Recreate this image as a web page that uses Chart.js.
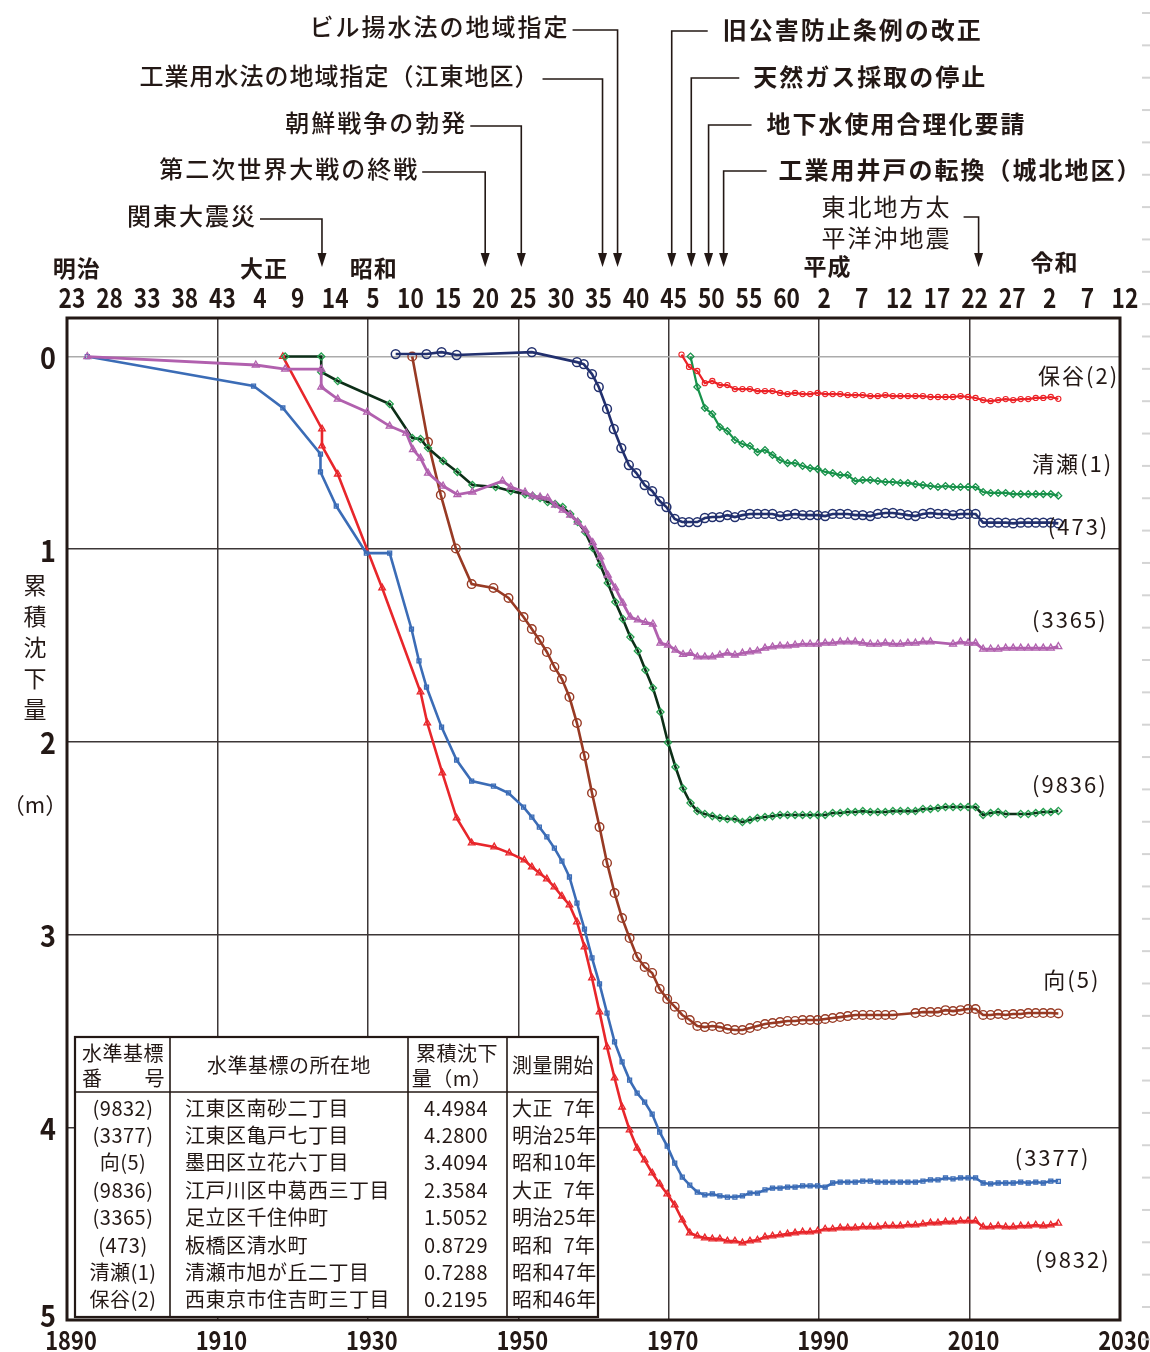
<!DOCTYPE html>
<html lang="ja">
<head>
<meta charset="utf-8">
<title>累積沈下量の推移</title>
<script src="https://cdn.jsdelivr.net/npm/chart.js@4.4.1/dist/chart.umd.min.js"></script>
<style>
  html, body { margin: 0; padding: 0; background: #fff; }
  canvas { display: block; }
</style>
</head>
<body>
<canvas id="subsidenceChart" width="1150" height="1352"></canvas>
<script>
/* =========================================================
   DATA
   x = year as plotted, y = cumulative subsidence (m)
========================================================= */
const xTicks = [1890, 1910, 1930, 1950, 1970, 1990, 2010, 2030];
const yTicks = [0, 1, 2, 3, 4, 5];

// wareki year row on the top axis
const eraTickYears = [1890, 1895, 1900, 1905, 1910, 1915, 1920, 1925, 1930, 1935, 1940, 1945, 1950, 1955, 1960,
                      1965, 1970, 1975, 1980, 1985, 1990, 1995, 2000, 2005, 2010, 2015, 2020, 2025, 2030];
const eraTickLabels = ['23', '28', '33', '38', '43', '4', '9', '14', '5', '10', '15', '20', '25', '30', '35',
                       '40', '45', '50', '55', '60', '2', '7', '12', '17', '22', '27', '2', '7', '12'];
const eraNames = ['明治', '大正', '昭和', '平成', '令和'];
const eraNameYears = [1891.3, 1916.2, 1930.8, 1991.1, 2021.3];

// yearly survey points shared by all benchmarks after 1973
const annualYears = [1973.8, 1974.8, 1975.8, 1976.8, 1977.8, 1978.8, 1979.8, 1980.8, 1981.8, 1982.8,
                     1983.8, 1984.8, 1985.8, 1986.8, 1987.8, 1988.8, 1989.8, 1990.8, 1991.8, 1992.8,
                     1993.8, 1994.8, 1995.8, 1996.8, 1997.8, 1998.8, 1999.8, 2000.8, 2001.8, 2002.8,
                     2003.8, 2004.8, 2005.8, 2006.8, 2007.8, 2008.8, 2009.8, 2010.8, 2011.8, 2012.8,
                     2013.8, 2014.8, 2015.8, 2016.8, 2017.8, 2018.8, 2019.8, 2020.8, 2021.8];

// (9832) 江東区南砂二丁目
const early9832Years = [1918.7, 1923.9, 1923.9, 1926.0, 1931.9, 1937.0, 1937.9, 1939.9, 1941.8, 1943.8, 1946.8, 1948.8, 1950.8,
                        1951.8, 1952.8, 1953.8, 1954.8, 1955.8, 1956.8, 1957.8, 1958.8, 1959.8, 1960.8,
                        1961.8, 1962.8, 1963.8, 1964.8, 1965.8, 1966.8, 1967.8, 1968.8, 1969.8, 1970.8, 1971.8, 1972.8];
const early9832 = [0.00, 0.376, 0.464, 0.61, 1.201, 1.741, 1.902, 2.161, 2.395, 2.524, 2.545, 2.576, 2.613,
                   2.649, 2.680, 2.711, 2.753, 2.800, 2.846, 2.934, 3.064, 3.225, 3.401,
                   3.583, 3.744, 3.895, 4.014, 4.108, 4.170, 4.237, 4.294, 4.346, 4.403, 4.481, 4.548];
const late9832 = [4.564, 4.574, 4.579, 4.579, 4.590, 4.590, 4.600, 4.590, 4.585, 4.569,
                  4.564, 4.559, 4.553, 4.548, 4.543, 4.543, 4.538, 4.528, 4.528, 4.522,
                  4.522, 4.522, 4.517, 4.517, 4.517, 4.512, 4.512, 4.512, 4.507, 4.507,
                  4.502, 4.496, 4.496, 4.491, 4.491, 4.486, 4.486, 4.486, 4.517, 4.517,
                  4.512, 4.517, 4.517, 4.512, 4.512, 4.507, 4.512, 4.507, 4.498];

// (3377) 江東区亀戸七丁目
const early3377Years = [1892.7, 1914.8, 1918.7, 1923.7, 1923.7, 1925.8, 1929.8, 1932.9, 1935.8, 1936.8, 1937.8, 1939.8,
                        1941.8, 1943.8, 1946.7, 1948.7, 1950.7,
                        1951.8, 1952.8, 1953.8, 1954.8, 1955.8, 1956.8, 1957.8, 1958.8, 1959.8, 1960.8,
                        1961.8, 1962.8, 1963.8, 1964.8, 1965.8, 1966.8, 1967.8, 1968.8, 1969.8, 1970.8, 1971.8, 1972.8];
const early3377 = [0.0, 0.153, 0.267, 0.506, 0.599, 0.776, 1.020, 1.020, 1.414, 1.580, 1.715, 1.923,
                   2.094, 2.203, 2.229, 2.265, 2.338,
                   2.390, 2.442, 2.493, 2.551, 2.618, 2.701, 2.836, 2.971, 3.121, 3.256,
                   3.407, 3.557, 3.661, 3.755, 3.822, 3.869, 3.931, 4.025, 4.098, 4.186, 4.258, 4.300];
const late3377 = [4.336, 4.351, 4.346, 4.356, 4.362, 4.362, 4.356, 4.341, 4.341, 4.325,
                  4.315, 4.315, 4.310, 4.310, 4.304, 4.304, 4.304, 4.310, 4.289, 4.284,
                  4.284, 4.284, 4.279, 4.279, 4.284, 4.284, 4.284, 4.284, 4.284, 4.284,
                  4.279, 4.273, 4.273, 4.263, 4.268, 4.263, 4.263, 4.263, 4.289, 4.294,
                  4.289, 4.289, 4.289, 4.284, 4.289, 4.284, 4.289, 4.279, 4.280];

// 向(5) 墨田区立花六丁目
const early5Years = [1935.9, 1938.0, 1939.7, 1941.7, 1943.8, 1946.7, 1948.7, 1950.7,
                     1951.8, 1952.8, 1953.8, 1954.8, 1955.8, 1956.8, 1957.8, 1958.8, 1959.8, 1960.8,
                     1961.8, 1962.8, 1963.8, 1964.8, 1965.8, 1966.8, 1967.8, 1968.8, 1969.8, 1970.8, 1971.8, 1972.8];
const early5 = [0.0, 0.444, 0.719, 0.996, 1.181, 1.201, 1.253, 1.352,
                1.414, 1.471, 1.533, 1.611, 1.674, 1.767, 1.902, 2.073, 2.265, 2.442,
                2.628, 2.784, 2.914, 3.018, 3.116, 3.168, 3.199, 3.282, 3.334, 3.374, 3.417, 3.443];
const late5 = [3.474, 3.480, 3.474, 3.480, 3.490, 3.495, 3.495, 3.485, 3.474, 3.464,
               3.459, 3.454, 3.448, 3.448, 3.443, 3.443, 3.443, 3.438, 3.433, 3.428,
               3.423, 3.417, 3.417, 3.417, 3.417, 3.417, 3.417, null, null, 3.407,
               3.402, 3.402, 3.402, 3.392, 3.397, 3.392, 3.386, 3.386, 3.417, 3.417,
               3.412, 3.417, 3.412, 3.412, 3.407, 3.407, 3.407, 3.407, 3.409];

// (9836) 江戸川区中葛西三丁目
const early9836Years = [1919.0, 1923.8, 1923.8, 1926.0, 1932.9, 1935.9, 1937.0, 1938.0, 1940.0, 1941.9, 1943.9, 1947.0, 1949.0, 1950.9,
                        1951.9, 1952.9, 1953.9, 1954.9, 1955.9, 1956.9, 1957.9, 1958.9, 1959.9, 1960.9,
                        1961.9, 1962.9, 1963.9, 1964.9, 1965.9, 1966.9, 1967.9, 1968.9, 1969.9, 1970.9, 1971.9, 1972.9];
const early9836 = [0.0, 0.0, 0.08, 0.127, 0.246, 0.423, 0.428, 0.475, 0.542, 0.599, 0.667, 0.677, 0.698, 0.714,
                   0.724, 0.734, 0.755, 0.765, 0.781, 0.817, 0.859, 0.911, 0.994, 1.082,
                   1.175, 1.274, 1.362, 1.456, 1.528, 1.627, 1.720, 1.845, 2.003, 2.130, 2.242, 2.317];
const late9836 = [2.359, 2.374, 2.385, 2.395, 2.400, 2.400, 2.416, 2.405, 2.395, 2.390,
                  2.385, 2.379, 2.379, 2.379, 2.379, 2.379, 2.379, 2.379, 2.369, 2.369,
                  2.364, 2.364, 2.359, 2.364, 2.364, 2.364, 2.359, 2.359, 2.359, 2.359,
                  2.348, 2.348, 2.343, 2.338, 2.338, 2.338, 2.338, 2.338, 2.379, 2.369,
                  2.364, 2.374, null, 2.374, 2.374, 2.369, 2.364, 2.364, 2.358];

// (3365) 足立区千住仲町
const early3365Years = [1892.7, 1915.1, 1919.0, 1923.8, 1923.8, 1926.0, 1929.9, 1932.9, 1935.1, 1936.0, 1937.0, 1938.0,
                        1940.0, 1941.9, 1943.9, 1947.9, 1949.0, 1950.9,
                        1951.9, 1952.9, 1953.9, 1954.9, 1955.9, 1956.9, 1957.9, 1958.9, 1959.9, 1960.9,
                        1961.9, 1962.9, 1963.9, 1964.9, 1965.9, 1966.9, 1967.9, 1968.9, 1969.9, 1970.9, 1971.9, 1972.9];
const early3365 = [0.0, 0.044, 0.065, 0.065, 0.158, 0.221, 0.288, 0.361, 0.397, 0.483, 0.527, 0.605,
                   0.672, 0.716, 0.703, 0.646, 0.677, 0.703,
                   0.724, 0.729, 0.734, 0.771, 0.797, 0.823, 0.859, 0.900, 0.965, 1.040,
                   1.134, 1.201, 1.279, 1.352, 1.367, 1.380, 1.388, 1.487, 1.497, 1.523, 1.546, 1.540];
const late3365 = [1.559, 1.559, 1.559, 1.549, 1.539, 1.549, 1.539, 1.533, 1.528, 1.513,
                  1.507, 1.502, 1.502, 1.497, 1.492, 1.492, 1.492, 1.487, 1.487, 1.481,
                  1.481, 1.481, 1.487, 1.492, 1.492, 1.487, 1.492, 1.492, 1.487, 1.487,
                  1.481, 1.481, null, null, 1.492, 1.481, 1.487, 1.487, 1.518, 1.518,
                  1.518, 1.513, 1.513, 1.513, 1.513, 1.513, 1.513, 1.513, 1.505];

// (473) 板橋区清水町
const early473Years = [1933.7, 1937.8, 1939.8, 1941.8, 1951.8, 1957.8, 1958.7, 1959.8, 1960.7, 1961.8, 1962.7,
                       1963.7, 1964.7, 1965.7, 1966.8, 1967.8, 1968.8, 1969.7, 1970.8, 1971.8, 1972.7];
const early473 = [-0.013, -0.013, -0.023, -0.008, -0.023, 0.029, 0.039, 0.091, 0.158, 0.272, 0.376,
                  0.475, 0.563, 0.605, 0.667, 0.698, 0.750, 0.781, 0.843, 0.859, 0.859];
const late473 = [0.859, 0.838, 0.833, 0.833, 0.823, 0.833, 0.823, 0.817, 0.817, 0.817,
                 0.817, 0.828, 0.823, 0.817, 0.823, 0.823, 0.823, 0.828, 0.817, 0.817,
                 0.817, 0.823, 0.823, 0.828, 0.817, 0.812, 0.812, 0.817, 0.823, 0.828,
                 0.817, 0.812, 0.817, 0.817, 0.823, 0.817, 0.817, 0.817, 0.862, 0.862,
                 0.862, 0.862, 0.866, 0.862, 0.862, 0.862, 0.862, 0.862, 0.866];

// 清瀬(1) 清瀬市旭が丘二丁目
const early1Years = [1972.9];
const early1 = [0.0];
const late1 = [0.158, 0.267, 0.298, 0.366, 0.387, 0.433, 0.454, 0.464, 0.496, 0.485,
               0.511, 0.537, 0.553, 0.553, 0.568, 0.579, 0.584, 0.599, 0.605, 0.615,
               0.615, 0.646, 0.641, 0.641, 0.646, 0.651, 0.651, 0.656, 0.656, 0.662,
               0.667, 0.672, 0.677, 0.672, 0.677, 0.677, 0.677, 0.677, 0.703, 0.708,
               0.708, 0.708, 0.714, 0.714, 0.714, 0.714, 0.714, 0.714, 0.722];

// 保谷(2) 西東京市住吉町三丁目
const early2Years = [1971.7, 1972.7];
const early2 = [-0.01, 0.054];
const late2 = [0.075, 0.138, 0.127, 0.148, 0.148, 0.169, 0.169, 0.169, 0.179, 0.179,
               0.179, 0.189, 0.195, 0.189, 0.195, 0.195, 0.189, 0.195, 0.195, 0.195,
               0.200, 0.200, 0.200, 0.205, 0.205, 0.200, 0.205, 0.205, 0.205, 0.205,
               0.205, 0.210, 0.210, 0.210, 0.210, 0.205, 0.210, 0.215, 0.226, 0.231,
               0.226, 0.221, 0.226, 0.221, 0.221, 0.215, 0.215, 0.210, 0.2195];

// curve labels at the right end (year, value)
const curveLabels = ['保谷(2)', '清瀬(1)', '(473)', '(3365)', '(9836)', '向(5)', '(3377)', '(9832)'];
const curveLabelYears = [2019.1, 2018.3, 2020.4, 2018.3, 2018.3, 2019.8, 2016.0, 2018.7];
const curveLabelValues = [0.10, 0.558, 0.885, 1.367, 2.224, 3.236, 4.159, 4.689];

// events marked by arrows above the chart
const eventLabels = ['関東大震災', '第二次世界大戦の終戦', '朝鮮戦争の勃発', '工業用水法の地域指定（江東地区）',
                     'ビル揚水法の地域指定', '旧公害防止条例の改正', '天然ガス採取の停止', '地下水使用合理化要請',
                     '工業用井戸の転換（城北地区）', '東北地方太平洋沖地震'];
const eventYears = [1923.9, 1945.6, 1950.4, 1961.2, 1963.2, 1970.4, 1973.0, 1975.3, 1977.3, 2011.2];

// table in the lower left
const tableRows = [
  ['(9832)', '江東区南砂二丁目', '4.4984', '大正\u20027年'],
  ['(3377)', '江東区亀戸七丁目', '4.2800', '明治25年'],
  ['向(5)', '墨田区立花六丁目', '3.4094', '昭和10年'],
  ['(9836)', '江戸川区中葛西三丁目', '2.3584', '大正\u20027年'],
  ['(3365)', '足立区千住仲町', '1.5052', '明治25年'],
  ['(473)', '板橋区清水町', '0.8729', '昭和\u20027年'],
  ['清瀬(1)', '清瀬市旭が丘二丁目', '0.7288', '昭和47年'],
  ['保谷(2)', '西東京市住吉町三丁目', '0.2195', '昭和46年']
];

/* =========================================================
   STYLE
========================================================= */
const INK = '#231815';
const JP_FONT = "'Noto Sans CJK JP', 'Noto Sans CJK SC', sans-serif";

// layout of the event callouts (pixels relative to the arrow / canvas top)
const eventLayout = [
  { side: 'left', y: 216, gap: 65 },
  { side: 'left', y: 169, gap: 66 },
  { side: 'left', y: 123, gap: 54 },
  { side: 'left', y: 76, gap: 63, spacing: 1 },
  { side: 'left', y: 27, gap: 48 },
  { side: 'right', y: 30, gap: 51, line: 36 },
  { side: 'right', y: 77, gap: 62, line: 48 },
  { side: 'right', y: 124, gap: 58, line: 43 },
  { side: 'right', y: 170, gap: 55, line: 43 },
  { side: 'stack', y: 207, gap: -92, line: 15, split: 5 }
];
const eraNameY = [268, 268, 268, 266, 262];

function pts(years, vals) {
  return years.map((x, i) => ({ x, y: vals[i] }));
}

function lineSet(label, early, earlyYears, late, o) {
  return {
    label,
    data: pts(earlyYears, early).concat(pts(annualYears, late)),
    borderColor: o.line,
    borderWidth: o.width || 2.6,
    pointStyle: o.marker,
    pointRadius: o.r,
    pointBorderColor: o.mark || o.line,
    pointBackgroundColor: 'rgba(255,255,255,0)',
    pointBorderWidth: o.mw || 1.3,
    spanGaps: true,
    tension: 0
  };
}

const datasets = [
  lineSet('保谷(2)', early2, early2Years, late2, { line: '#ec2227', marker: 'circle', r: 2.6, width: 2.2, mw: 1.1 }),
  lineSet('清瀬(1)', early1, early1Years, late1, { line: '#17924a', marker: 'rectRot', r: 3.4, width: 2.2 }),
  lineSet('(473)', early473, early473Years, late473, { line: '#22306e', marker: 'circle', r: 4.4, mw: 1.5 }),
  lineSet('(3365)', early3365, early3365Years, late3365, { line: '#b160ae', marker: 'triangle', r: 4, width: 2.8 }),
  lineSet('(9836)', early9836, early9836Years, late9836, { line: '#0d2f18', mark: '#25a04f', marker: 'rectRot', r: 3.6 }),
  lineSet('向(5)', early5, early5Years, late5, { line: '#983a24', marker: 'circle', r: 4.3, mw: 1.4 }),
  lineSet('(3377)', early3377, early3377Years, late3377, { line: '#3b6cb6', marker: 'rect', r: 2.8 }),
  lineSet('(9832)', early9832, early9832Years, late9832, { line: '#e8262b', marker: 'triangle', r: 3.8 })
];

/* =========================================================
   DRAWING HELPERS (plugin)
========================================================= */
// condensed bold digits, like the narrow gothic of the original
function narrowText(ctx, text, px, py, size, sx) {
  ctx.save();
  ctx.translate(px, py);
  ctx.scale(sx, 1);
  ctx.font = `bold ${size}px ${JP_FONT}`;
  ctx.fillText(text, 0, 0);
  ctx.restore();
}

function drawTickLabels(chart) {
  const { ctx, scales: { x, y }, chartArea: a } = chart;
  ctx.save();
  ctx.fillStyle = INK;
  ctx.textAlign = 'center';
  ctx.textBaseline = 'middle';
  xTicks.forEach(v => narrowText(ctx, String(v), x.getPixelForValue(v) + 4, a.bottom + 20, 26, 0.84));
  eraTickYears.forEach((v, i) => narrowText(ctx, eraTickLabels[i], x.getPixelForValue(v) + 5, a.top - 20, 27, 0.84));
  yTicks.forEach(v => narrowText(ctx, String(v), a.left - 19, Math.min(y.getPixelForValue(v) + 1, a.bottom - 4), 30, 0.9));
  ctx.restore();
}

function drawTable(ctx) {
  const cols = [75, 170, 408, 507, 598];
  const top = 1037, head = 1092, bottom = 1317;
  const rowH = 27.4, firstRow = 1108;
  ctx.save();
  ctx.fillStyle = '#fff';
  ctx.fillRect(cols[0], top, cols[4] - cols[0], bottom - top);
  ctx.strokeStyle = INK;
  ctx.lineWidth = 1.6;
  cols.slice(1, 4).forEach(c => {
    ctx.beginPath(); ctx.moveTo(c, top); ctx.lineTo(c, bottom); ctx.stroke();
  });
  ctx.beginPath(); ctx.moveTo(cols[0], head); ctx.lineTo(cols[4], head); ctx.stroke();
  ctx.lineWidth = 2.2;
  ctx.strokeRect(cols[0], top, cols[4] - cols[0], bottom - top);

  ctx.fillStyle = INK;
  ctx.textBaseline = 'middle';
  ctx.font = `20px ${JP_FONT}`;
  ctx.letterSpacing = '0.5px';
  // header
  ctx.textAlign = 'center';
  ctx.fillText('水準基標', 123, 1053);
  ctx.textAlign = 'left';
  ctx.fillText('番', 82, 1078);
  ctx.textAlign = 'right';
  ctx.fillText('号', 165, 1078);
  ctx.textAlign = 'center';
  ctx.fillText('水準基標の所在地', 289, 1065);
  ctx.fillText('累積沈下', 457, 1053);
  ctx.fillText('量（m）', 452, 1078);
  ctx.fillText('測量開始', 553, 1065);
  // rows
  tableRows.forEach((r, i) => {
    const y = firstRow + i * rowH;
    ctx.textAlign = 'center';
    ctx.fillText(r[0], 123, y);
    ctx.fillText(r[2], 456, y);
    ctx.textAlign = 'left';
    ctx.fillText(r[1], 185, y);
    ctx.fillText(r[3], 512, y);
  });
  ctx.restore();
}

function drawEvents(chart) {
  const { ctx, scales: { x }, chartArea } = chart;
  const tipY = chartArea.top - 51;
  ctx.save();
  ctx.strokeStyle = INK;
  ctx.fillStyle = INK;
  ctx.lineWidth = 1.6;
  ctx.textBaseline = 'middle';
  eventLabels.forEach((label, i) => {
    const L = eventLayout[i];
    const ax = x.getPixelForValue(eventYears[i]);
    let lineY = L.y + 3;
    ctx.letterSpacing = (L.spacing !== undefined ? L.spacing : 2) + 'px';
    if (L.side === 'left') {
      ctx.font = `500 24px ${JP_FONT}`;
      ctx.textAlign = 'right';
      ctx.fillText(label, ax - L.gap, L.y);
      ctx.beginPath();
      ctx.moveTo(ax - L.gap + 3, lineY);
      ctx.lineTo(ax, lineY);
      ctx.lineTo(ax, tipY - 12);
      ctx.stroke();
    } else if (L.side === 'right') {
      ctx.font = `bold 24px ${JP_FONT}`;
      ctx.textAlign = 'left';
      ctx.fillText(label, ax + L.gap, L.y);
      lineY = L.y + 1;
      ctx.beginPath();
      ctx.moveTo(ax + L.line, lineY);
      ctx.lineTo(ax, lineY);
      ctx.lineTo(ax, tipY - 12);
      ctx.stroke();
    } else {
      ctx.font = `24px ${JP_FONT}`;
      ctx.textAlign = 'center';
      ctx.fillText(label.slice(0, L.split), ax + L.gap, L.y);
      ctx.fillText(label.slice(L.split), ax + L.gap, L.y + 31);
      lineY = L.y + 10;
      ctx.beginPath();
      ctx.moveTo(ax - L.line, lineY);
      ctx.lineTo(ax, lineY);
      ctx.lineTo(ax, tipY - 12);
      ctx.stroke();
    }
    ctx.beginPath();
    ctx.moveTo(ax - 4.5, tipY - 14);
    ctx.lineTo(ax + 4.5, tipY - 14);
    ctx.lineTo(ax, tipY);
    ctx.closePath();
    ctx.fill();
  });
  ctx.restore();
}

function drawTexts(chart) {
  const { ctx, scales: { x, y } } = chart;
  ctx.save();
  ctx.fillStyle = INK;
  ctx.textBaseline = 'middle';
  // era names
  ctx.font = `bold 23px ${JP_FONT}`;
  ctx.textAlign = 'center';
  ctx.letterSpacing = '1px';
  eraNames.forEach((n, i) => ctx.fillText(n, x.getPixelForValue(eraNameYears[i]), eraNameY[i]));
  // curve labels
  ctx.font = `22px ${JP_FONT}`;
  ctx.textAlign = 'left';
  ctx.letterSpacing = '2px';
  curveLabels.forEach((t, i) => ctx.fillText(t, x.getPixelForValue(curveLabelYears[i]), y.getPixelForValue(curveLabelValues[i])));
  // y axis title, stacked vertically
  ctx.font = `23px ${JP_FONT}`;
  ctx.textAlign = 'center';
  ctx.letterSpacing = '0px';
  Array.from('累積沈下量').forEach((ch, i) => ctx.fillText(ch, 35, 585 + i * 31));
  ctx.font = `22px ${JP_FONT}`;
  ctx.fillText('（m）', 35, 805);
  // faint ruler marks on the right edge
  ctx.strokeStyle = '#d4d4d4';
  ctx.lineWidth = 2;
  for (let yy = 13; yy < 1352; yy += 32.35) {
    ctx.beginPath(); ctx.moveTo(1142, yy); ctx.lineTo(1150, yy); ctx.stroke();
  }
  ctx.restore();
}

const decorPlugin = {
  id: 'decor',
  afterDatasetsDraw(chart) {
    const { ctx, chartArea: a } = chart;
    drawTable(ctx);
    ctx.save();
    ctx.strokeStyle = INK;
    ctx.lineWidth = 3;
    ctx.strokeRect(a.left, a.top, a.right - a.left, a.bottom - a.top);
    ctx.restore();
  },
  afterDraw(chart) {
    drawTickLabels(chart);
    drawEvents(chart);
    drawTexts(chart);
  }
};

/* =========================================================
   CHART
========================================================= */
new Chart(document.getElementById('subsidenceChart'), {
  type: 'line',
  data: { datasets },
  options: {
    responsive: false,
    devicePixelRatio: 1,
    animation: false,
    layout: { padding: { top: 318, right: 30, left: 0, bottom: 0 } },
    plugins: { legend: { display: false }, tooltip: { enabled: false } },
    scales: {
      x: {
        type: 'linear', position: 'bottom', min: 1890, max: 2030,
        afterBuildTicks: s => { s.ticks = xTicks.map(v => ({ value: v })); },
        afterFit: s => { s.height = 32; },
        ticks: { display: false },
        grid: { color: '#3c3636', lineWidth: 1.5, drawTicks: false },
        border: { display: false }
      },
      y: {
        type: 'linear', reverse: true, min: -0.2, max: 5,
        afterBuildTicks: s => { s.ticks = yTicks.map(v => ({ value: v })); },
        afterFit: s => { s.width = 67; },
        ticks: { display: false },
        grid: {
          color: c => (c.tick && c.tick.value === 0 ? '#ababab' : '#3c3636'),
          lineWidth: 1.5, drawTicks: false
        },
        border: { display: false }
      }
    }
  },
  plugins: [decorPlugin]
});
</script>
</body>
</html>
